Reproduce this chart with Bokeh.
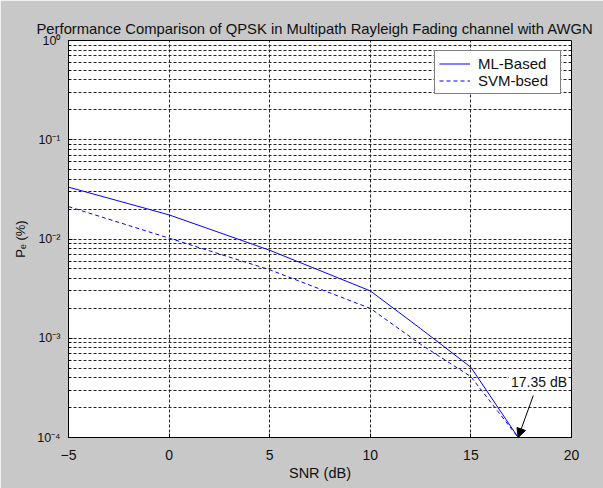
from bokeh.plotting import figure
from bokeh.models import (FixedTicker, Legend, LegendItem, Arrow, NormalHead, Range1d)
from bokeh.embed import file_html
from bokeh.resources import INLINE

# ---- data ----
snr_ml = [-5, 0, 5, 10, 12.5, 15, 17.35]
pe_ml = [0.0333, 0.0175, 0.0077, 0.0030, 0.00125, 0.00051, 0.0001]
snr_svm = [-5, 0, 5, 10, 12.5, 15, 17.35]
pe_svm = [0.0212, 0.0102, 0.0049, 0.0020, 0.00087, 0.00041, 0.0001]
x_ticks = [-5, 0, 5, 10, 15, 20]
y_ticks = [1e-4, 1e-3, 1e-2, 1e-1, 1]
y_tick_labels = ["10\u207b\u2074", "10\u207b\u00b3", "10\u207b\u00b2", "10\u207b\u00b9", "10\u2070"]
series_names = ["ML-Based", "SVM-bsed"]
title_text = "Performance Comparison of QPSK in Multipath Rayleigh Fading channel with AWGN"
annot_text = "17.35 dB"

FONT = "Liberation Sans"
BG = "#c8c8c8"
TXT = "#101010"

p = figure(width=603, height=488, y_axis_type="log", output_backend="svg",
           toolbar_location=None, x_range=Range1d(-5, 20), y_range=Range1d(1e-4, 1),
           min_border_left=68, min_border_right=32, min_border_top=40, min_border_bottom=51)
p.background_fill_color = "white"
p.border_fill_color = BG
p.outline_line_color = "black"
p.outline_line_width = 1

p.title.text = title_text
p.title.align = "left"
p.title.offset = -32
p.title.vertical_align = "bottom"
p.title.text_font = FONT
p.title.text_font_size = "14.8px"
p.title.text_font_style = "normal"
p.title.text_color = TXT
p.title.standoff = 8

minor = []
for d in range(-4, 0):
    for k in range(2, 10):
        minor.append(k * 10.0 ** d)

p.xaxis.ticker = FixedTicker(ticks=x_ticks)
p.yaxis.ticker = FixedTicker(ticks=y_ticks, minor_ticks=minor)
p.yaxis.major_label_overrides = {t: l for t, l in zip(y_ticks, y_tick_labels)}

for ax in (p.xaxis[0], p.yaxis[0]):
    ax.axis_line_color = "black"
    ax.major_tick_in = 4
    ax.major_tick_out = 0
    ax.minor_tick_in = 2
    ax.minor_tick_out = 0
    ax.major_tick_line_color = "black"
    ax.major_label_text_font = FONT
    ax.major_label_text_color = TXT
    ax.axis_label_text_font = FONT
    ax.axis_label_text_font_style = "normal"
    ax.axis_label_text_color = TXT
p.xaxis.minor_tick_line_color = None
p.xaxis.major_label_text_font_size = "14px"
p.xaxis.axis_label_text_font_size = "14.5px"
p.xaxis.axis_label = "SNR (dB)"
p.xaxis.major_label_standoff = 12
p.xaxis.axis_label_standoff = 2
p.yaxis.major_label_text_font_size = "12.5px"
p.yaxis.axis_label_text_font_size = "13px"
p.yaxis.axis_label = "P\u2091 (%)"
p.yaxis.major_label_standoff = 8
p.yaxis.axis_label_standoff = 6

for g in (p.xgrid[0], p.ygrid[0]):
    g.grid_line_color = "#222222"
    g.grid_line_dash = "3 2"
    g.grid_line_width = 1
p.ygrid.minor_grid_line_color = "#222222"
p.ygrid.minor_grid_line_dash = "3 2"

r1 = p.line(snr_ml, pe_ml, line_color="blue", line_width=1)
r2 = p.line(snr_svm, pe_svm, line_color="blue", line_width=1, line_dash="4 3")

legend = Legend(items=[LegendItem(label=series_names[0], renderers=[r1]),
                       LegendItem(label=series_names[1], renderers=[r2])],
                location="top_right")
legend.label_text_font = FONT
legend.label_text_font_size = "15px"
legend.label_text_color = TXT
legend.border_line_color = "black"
legend.background_fill_color = "white"
legend.background_fill_alpha = 1
legend.margin = 10
legend.padding = 4
legend.spacing = 0
legend.label_height = 17
legend.glyph_height = 17
legend.glyph_width = 31
legend.label_width = 78
legend.label_standoff = 8
p.add_layout(legend)

p.add_layout(Arrow(end=NormalHead(size=9, fill_color="black", line_color="black"),
                   x_start=18.1, y_start=2.65e-4, x_end=17.35, y_end=1.0e-4,
                   line_color="black", line_width=1))

# annotation text box (a glyph-less legend)
r_note = p.line([17.35], [1.0e-4], line_alpha=0)
note = Legend(items=[LegendItem(label=annot_text, renderers=[r_note])],
              location=(441, 47))
note.label_text_font = FONT
note.label_text_font_size = "14px"
note.label_text_color = TXT
note.border_line_color = None
note.background_fill_color = "white"
note.background_fill_alpha = 1
note.margin = 0
note.padding = 5
note.spacing = 0
note.glyph_width = 0
note.glyph_height = 17
note.label_height = 17
note.label_standoff = 2
p.add_layout(note)

open("out.html", "w").write(file_html(p, INLINE))
